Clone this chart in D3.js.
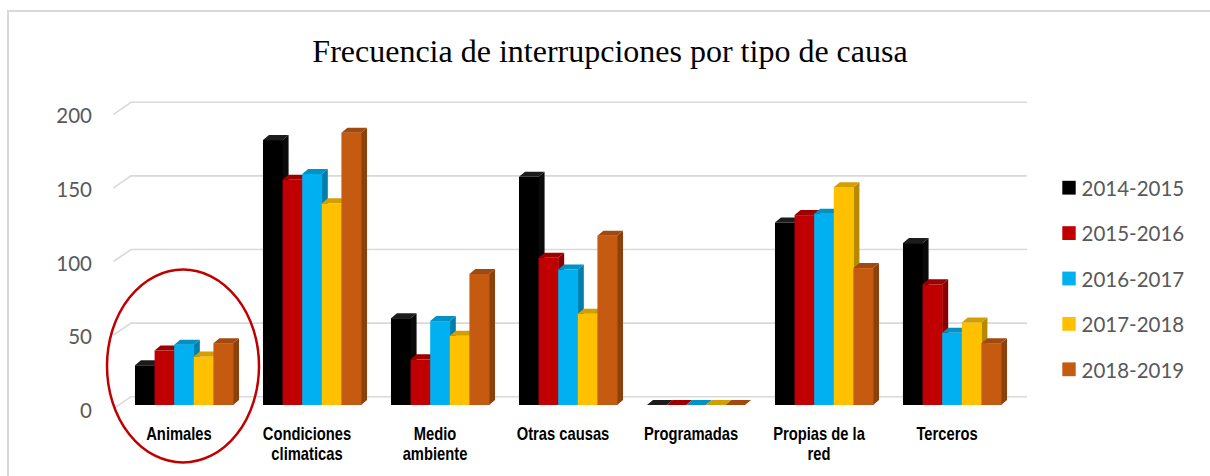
<!DOCTYPE html>
<html><head><meta charset="utf-8">
<script src="https://cdn.jsdelivr.net/npm/d3@7"></script>
<style>html,body{margin:0;padding:0;background:#fff;}svg{display:block;}</style>
</head><body>
<script>
const categories = ["Animales","Condiciones climaticas","Medio ambiente","Otras causas","Programadas","Propias de la red","Terceros"];
const seriesNames = ["2014-2015","2015-2016","2016-2017","2017-2018","2018-2019"];
const seriesColors = ["#000000","#C00000","#00B0F0","#FFC000","#C55A11"];
const v2014 = [27,180,59,155,0,124,110];
const v2015 = [37,153,31,100,0,129,82];
const v2016 = [41,157,57,92,0,130,49];
const v2017 = [33,137,47,62,0,148,56];
const v2018 = [42,185,89,115,0,93,42];
const yTicks = [0,50,100,150,200];
const title = "Frecuencia de interrupciones por tipo de causa";

const seriesValues = [v2014,v2015,v2016,v2017,v2018];
const W=1210,H=476;
const svg=d3.select("body").append("svg").attr("width",W).attr("height",H);

// outer border (top + left)
svg.append("path").attr("d","M8,476 L8,11 L1210,11").attr("fill","none").attr("stroke","#d9d9d9").attr("stroke-width",2);

svg.append("text").attr("x",610).attr("y",62).attr("text-anchor","middle")
  .style("font-family","'Liberation Serif','Times New Roman',serif").style("font-size","32px").attr("fill","#000").text(title);

const y = d3.scaleLinear().domain([0,200]).range([396.7,102.3]);
const FRONT_DY = 8.3;          // bars front plane below back wall
const DX=6, DY=-5;             // bar depth
const WX=-17.5, WY=12;         // wall-to-front diagonal

const x = d3.scaleBand().domain(categories).range([120,1016]).paddingInner(0.234).paddingOuter(0.117);
const xs = d3.scaleBand().domain(seriesNames).range([0,x.bandwidth()]).padding(0);

// gridlines
const g = svg.append("g");
yTicks.forEach(t=>{
  const yy=y(t);
  g.append("path").attr("d",`M${131+WX},${yy+WY} L131,${yy} L1027,${yy}`)
    .attr("fill","none").attr("stroke","#d9d9d9").attr("stroke-width",1.6);
  g.append("text").attr("x",92).attr("y",yy+WY+1).attr("text-anchor","end").attr("dominant-baseline","central")
    .style("font-family","Lato,'Open Sans',sans-serif").style("font-size","20.5px").attr("fill","#595959").text(t);
});

// bars
const bars = svg.append("g");
categories.forEach((c,ci)=>{
  seriesNames.forEach((s,si)=>{
    const v=seriesValues[si][ci];
    const x0=x(c)+xs(s), w=xs.bandwidth();
    const yb=y(0)+FRONT_DY, yt=y(v)+FRONT_DY;
    const col=d3.color(seriesColors[si]);
    const capCol = si===0? "#1c1c1c" : col.darker(0.55).formatHex();
    const sideCol = si===0? "#0a0a0a" : col.darker(0.95).formatHex();
    bars.append("path").attr("d",`M${x0+w},${yt} L${x0+w+DX},${yt+DY} L${x0+w+DX},${yb+DY} L${x0+w},${yb} Z`).attr("fill",sideCol);
    if (yb-yt>0) bars.append("rect").attr("x",x0).attr("y",yt).attr("width",w+0.4).attr("height",yb-yt).attr("fill",seriesColors[si]);
    bars.append("path").attr("d",`M${x0},${yt} L${x0+DX},${yt+DY} L${x0+w+DX},${yt+DY} L${x0+w},${yt} Z`).attr("fill",capCol);
  });
});

// x labels (condensed bold sans, like Arial Narrow)
const NARROW=0.82;
const lab = svg.append("g").style("font-family","'Liberation Sans',Arial,sans-serif")
  .style("font-weight","bold").style("font-size","18px").attr("fill","#000");
categories.forEach(c=>{
  const cx=x(c)+x.bandwidth()/2-5;
  const t=lab.append("text").attr("transform",`translate(${cx},439.5) scale(${NARROW},1)`).attr("text-anchor","middle");
  const words=c.split(" ");
  let line=[], lines=[];
  const probe=lab.append("text").attr("visibility","hidden");
  words.forEach(wd=>{
    const test=line.concat([wd]).join(" ");
    probe.text(test);
    if(probe.node().getComputedTextLength()*NARROW>103 && line.length){lines.push(line.join(" "));line=[wd];}
    else line.push(wd);
  });
  lines.push(line.join(" "));
  probe.remove();
  lines.forEach((l,i)=>t.append("tspan").attr("x",0).attr("dy",i?20.7:0).text(l));
});

// legend
const leg=svg.append("g");
seriesNames.forEach((s,i)=>{
  const yy=187.7+i*45.4;
  leg.append("rect").attr("x",1062.3).attr("y",yy-6.9).attr("width",13.4).attr("height",13.8).attr("fill",seriesColors[i]);
  leg.append("text").attr("x",1081.5).attr("y",yy+8.3)
    .style("font-family","Lato,'Open Sans',sans-serif").style("font-size","20.5px").attr("fill","#595959").text(s);
});

// highlight ellipse
svg.append("ellipse").attr("cx",183).attr("cy",366).attr("rx",76).attr("ry",96.5)
  .attr("fill","none").attr("stroke","#C00000").attr("stroke-width",2.5);
</script>
</body></html>
